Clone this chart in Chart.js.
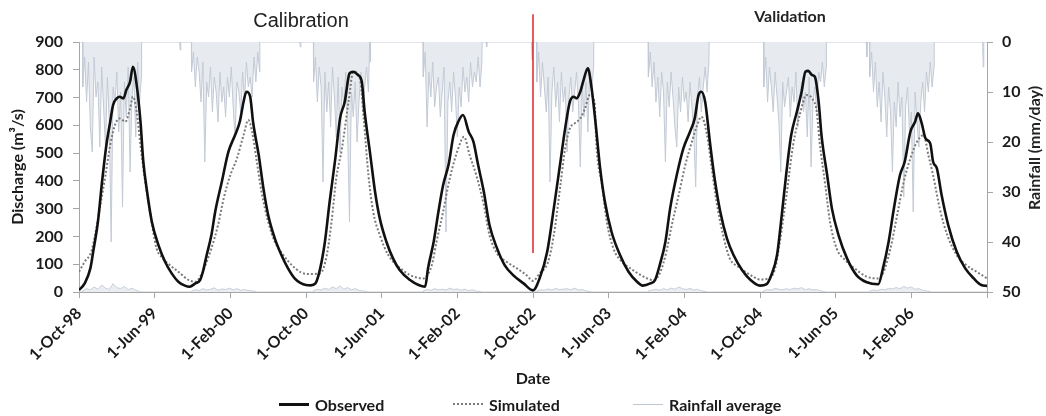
<!DOCTYPE html>
<html><head><meta charset="utf-8">
<script src="https://cdn.jsdelivr.net/npm/chart.js@4.4.0/dist/chart.umd.min.js"></script>
<style>
html,body{margin:0;padding:0;background:#fff;}
#wrap{position:relative;width:1046px;height:416px;overflow:hidden;}
canvas{display:block;}
.leg{position:absolute;top:394px;height:20px;display:flex;align-items:center;font:bold 16px Lato;color:#1a1a1a;white-space:nowrap;}
.leg i{display:inline-block;width:30px;margin-right:6px;}
</style></head>
<body><div id="wrap"><canvas id="c" width="1046" height="416"></canvas>
<div class="leg" style="left:279px"><i style="border-top:3px solid #111"></i>Observed</div>
<div class="leg" style="left:453px"><i style="border-top:2px dotted #7a7a7a"></i>Simulated</div>
<div class="leg" style="left:633px"><i style="border-top:1px solid #bfc7d2"></i>Rainfall average</div>
</div>
<script>
// x in months since 1-Oct-98
const xTickLabels = ['1-Oct-98','1-Jun-99','1-Feb-00','1-Oct-00','1-Jun-01','1-Feb-02','1-Oct-02','1-Jun-03','1-Feb-04','1-Oct-04','1-Jun-05','1-Feb-06'];
const periodTitles = ['Calibration','Validation'];
const splitMonth = 48;
const splitRange = [140, 1000];

const obsMonth = [0.0,0.6,1.2,1.5,2.0,2.4,2.9,3.3,3.6,4.0,4.3,4.7,5.0,5.4,5.7,6.1,6.5,6.8,7.2,7.7,8.4,9.1,9.8,10.5,11.2,11.7,12.3,12.8,13.1,13.5,14.0,14.4,15.1,15.8,16.5,17.0,17.4,17.7,18.1,18.4,19.0,19.5,20.0,20.7,21.4,22.1,22.8,23.4,24.0,24.5,25.0,25.5,26.0,26.5,27.1,27.6,28.1,28.6,29.0,29.5,29.9,30.2,30.8,31.3,31.8,32.5,33.2,33.9,35.0,35.9,36.6,36.9,37.5,38.0,38.5,39.1,39.6,40.1,40.6,41.2,41.7,42.2,42.8,43.4,44.2,45.0,45.9,47.0,48.0,48.7,49.5,50.2,50.9,51.4,51.9,52.3,52.6,53.0,53.3,53.8,54.2,54.6,55.1,55.6,56.3,57.2,58.1,59.0,59.6,60.4,60.9,61.4,62.0,62.5,63.2,63.9,64.6,65.1,65.5,65.8,66.2,66.7,67.2,67.8,68.5,69.2,70.1,71.0,72.0,72.7,73.2,73.8,74.3,74.8,75.3,75.9,76.4,76.8,77.1,77.5,77.8,78.2,78.5,79.1,79.6,80.3,81.2,82.2,83.3,84.5,85.0,85.6,86.1,86.8,87.3,87.9,88.4,88.7,89.1,89.5,90.0,90.3,90.7,91.2,91.9,92.8,93.7,94.6,95.4,96.0];
const obsFlow = [7,31,85,145,253,385,530,613,673,697,703,697,727,757,811,745,613,469,361,253,169,109,67,37,23,19,31,43,73,133,205,289,397,505,565,613,685,721,703,613,493,373,277,193,133,85,49,33,25,24,31,85,181,325,481,625,685,787,793,781,757,649,493,361,265,181,121,79,43,25,19,85,181,289,385,463,565,613,637,577,541,457,361,241,157,97,61,31,6,49,145,301,469,589,685,703,697,721,757,805,733,613,445,325,217,133,73,37,23,31,43,97,181,301,421,517,577,625,709,721,685,541,409,289,193,133,79,43,23,28,61,133,277,433,565,649,721,793,796,781,775,685,565,421,301,205,121,61,35,28,85,181,289,421,469,577,613,643,607,553,535,469,445,349,241,145,85,49,25,22];

const simMonth = [0.0,0.6,1.3,1.7,2.2,2.8,3.3,3.8,4.3,4.9,5.4,5.7,6.1,6.5,7.0,7.5,8.2,8.7,9.6,10.5,11.6,12.3,13.0,13.5,14.0,14.7,15.3,16.0,16.7,17.4,17.9,18.3,18.8,19.3,20.0,20.7,21.6,22.5,23.5,24.4,25.5,26.2,26.7,27.2,27.8,28.5,29.0,29.7,30.1,30.6,31.1,31.8,32.7,33.6,35.0,36.4,37.3,37.8,38.5,39.2,40.1,40.7,41.3,42.0,42.8,43.4,44.2,45.2,46.3,47.3,48.0,48.7,49.6,50.2,50.9,51.4,51.9,52.4,53.0,53.5,54.0,54.5,54.7,55.3,55.8,56.5,57.4,58.3,59.7,60.7,61.4,62.1,62.6,63.4,64.1,64.8,65.3,65.8,66.4,66.9,67.4,68.1,68.8,69.7,71.0,72.0,72.9,73.6,74.1,74.8,75.5,76.2,76.9,77.5,78.0,78.3,78.9,79.4,80.1,81.0,82.0,83.3,84.5,85.0,85.8,86.5,87.2,87.9,88.6,89.3,89.8,90.3,91.0,91.8,92.8,93.8,94.9,96.0];
const simFlow = [73,109,145,205,301,421,529,601,625,613,661,703,649,529,397,289,157,127,97,73,43,37,67,109,157,241,337,421,481,565,619,577,469,361,253,181,133,97,70,65,67,133,253,409,517,685,793,769,625,421,289,205,133,97,61,49,97,181,289,409,517,559,493,421,313,205,139,109,85,61,40,67,109,205,385,517,589,607,625,661,709,685,529,385,253,157,109,85,55,43,67,145,229,349,457,541,595,631,565,445,325,205,121,91,61,45,49,85,181,349,529,637,709,697,649,541,385,253,157,115,85,55,49,67,157,277,397,481,541,565,493,421,301,205,133,97,73,49];

// daily-rainfall samples (mm/day) through each wet season, one value every 0.2 month
const rainStart = [0.4, 11.9, 24.8, 36.4, 48.4, 60.2, 72.4, 83.6];
const rain1 = [9,3,12,4,17,22,3,11,8,21,5,13,21,7,16,40,9,12,6,18,10,33,8,15,5,26,11,7,19,4,12,7];
const rain2 = [6,2,9,3,6,12,4,24,8,11,5,14,7,10,16,6,12,9,15,7,11,5,13,19,8,10,14,6,12,4,9,7,11,3,8,2,6];
const rain3 = [8,3,12,5,9,28,6,14,8,17,5,11,19,7,22,9,13,6,18,36,10,15,8,20,12,6,14,9,5,10,4];
const rain4 = [7,2,17,6,11,4,13,9,7,15,10,5,38,12,8,14,6,11,19,9,13,5,10,7,12,4,9,6,8,3,9,4];
const rain5 = [8,2,11,4,9,14,7,28,10,5,13,8,16,6,12,9,22,11,7,14,10,6,12,25,9,15,8,18,6,10,5];
const rain6 = [7,2,9,4,12,7,15,6,10,24,8,13,6,11,17,21,9,14,7,12,10,16,8,13,18,29,11,7,14,9,5,10,4];
const rain7 = [9,3,12,5,9,14,6,11,16,26,8,13,10,7,15,9,12,6,17,11,8,14,10,19,7,25,12,9,14,6,8,4,9,5];
const rain8 = [7,2,10,4,13,8,16,6,11,19,9,14,26,12,17,8,15,11,31,13,9,18,14,34,10,16,21,12,8,14,6,10,4,9,5];
const rainSeasons = [rain1, rain2, rain3, rain4, rain5, rain6, rain7, rain8];
const dryMonth = [10.7, 23.4, 30.8, 43.1, 47.9, 83.3, 95.6];
const dryRain  = [1.6, 1, 3.6, 1, 3.6, 3, 5];

// faint low-level trace near the discharge baseline (m3/s), one value every 0.4 month
const base1 = [4,12,8,18,10,25,14,9,30,16,12,20,8,14,6,2];
const base2 = [3,8,5,12,7,10,15,6,11,9,14,8,12,6,9,5,4,2];
const base3 = [5,10,7,14,9,18,12,22,10,16,8,12,6,4,2];
const base4 = [4,9,6,12,8,10,7,14,9,11,6,10,5,8,3,2];
const base5 = [3,8,6,11,7,13,9,10,12,8,14,7,9,4,2];
const base6 = [4,7,10,6,12,8,14,10,18,12,9,13,7,10,4,2];
const base7 = [5,9,7,13,10,8,12,9,14,11,16,8,12,7,9,4,2];
const base8 = [3,7,5,10,8,13,11,16,12,20,14,18,10,12,6,4,2];
const baseSeasons = [base1, base2, base3, base4, base5, base6, base7, base8];

function seasonPoints(starts, seasons, step, extraX, extraY){
  const pts = [{x:0,y:0},{x:96,y:0}];
  seasons.forEach((vals,k)=>{
    const s = starts[k];
    pts.push({x:s-0.02, y:0});
    vals.forEach((v,i)=>pts.push({x:s+i*step, y:v}));
    pts.push({x:s+(vals.length-1)*step+0.02, y:0});
  });
  (extraX||[]).forEach((m,i)=>{ pts.push({x:m-0.06,y:0},{x:m,y:extraY[i]},{x:m+0.06,y:0}); });
  return pts.sort((a,b)=>a.x-b.x);
}
const pair = (xs, ys) => xs.map((x,i)=>({x, y:ys[i]}));

const FONT = 'Lato';
const titlesPlugin = {
  id:'titles',
  afterDraw(chart){
    const ctx = chart.ctx;
    ctx.save();
    ctx.fillStyle = '#222';
    ctx.textAlign = 'center'; ctx.textBaseline = 'middle';
    ctx.font = '20px "Liberation Sans", Arial, sans-serif';
    ctx.fillText(periodTitles[0], 301, 21);
    ctx.font = 'bold 16px ' + FONT;
    ctx.fillText(periodTitles[1], 790, 17);
    ctx.translate(1035, 148);
    ctx.rotate(-Math.PI/2);
    ctx.fillText('Rainfall (mm/day)', 0, 0);
    ctx.restore();
  }
};

const axisColor = '#a6a6a6';
const tickFont = {family: FONT, size: 16, weight: 'bold'};

new Chart(document.getElementById('c'), {
  type: 'line',
  data: {
    datasets: [
      {label:'Observed', data: pair(obsMonth, obsFlow), yAxisID:'y', borderColor:'#111', borderWidth:2.6,
       pointRadius:0, cubicInterpolationMode:'monotone', order:1},
      {label:'Simulated', data: pair(simMonth, simFlow), yAxisID:'y', borderColor:'#7a7a7a', borderWidth:2,
       borderDash:[2,2], pointRadius:0, cubicInterpolationMode:'monotone', order:2},
      {label:'Rainfall average', data: seasonPoints(rainStart, rainSeasons, 0.2, dryMonth, dryRain), yAxisID:'y2',
       borderColor:'#c3cad5', borderWidth:1, pointRadius:0, tension:0, order:4,
       fill:{value:0}, backgroundColor:'rgba(196,203,214,0.4)'},
      {label:'base', data: seasonPoints(rainStart, baseSeasons, 0.4), yAxisID:'y',
       borderColor:'#c9cfd9', borderWidth:1, pointRadius:0, tension:0, order:5,
       fill:'origin', backgroundColor:'rgba(196,203,214,0.35)'},
      {label:'split', data: [{x:splitMonth,y:splitRange[0]},{x:splitMonth,y:splitRange[1]}], yAxisID:'y',
       borderColor:'#d9262b', borderWidth:1.5, pointRadius:0, clip:false, order:0}
    ]
  },
  options: {
    responsive:false, animation:false, devicePixelRatio:1,
    layout:{padding:{top:42, bottom:26, left:0, right:0}},
    plugins:{legend:{display:false}, tooltip:{enabled:false}},
    scales:{
      x:{type:'linear', min:0, max:96,
         afterFit(s){ s.height = 98; },
         ticks:{stepSize:8, autoSkip:false, includeBounds:false, maxRotation:45, minRotation:45, padding:6,
                color:'#1a1a1a', font:tickFont,
                callback:(v)=> (v % 8 === 0 && xTickLabels[v/8]) ? xTickLabels[v/8] : ''},
         grid:{display:true, drawOnChartArea:false, drawTicks:true, tickLength:6, color:axisColor},
         border:{display:true, color:axisColor, width:1},
         title:{display:true, text:'Date', color:'#1a1a1a', font:{family:FONT,size:16,weight:'bold'}, padding:{top:0,bottom:2}}},
      y:{position:'left', min:0, max:900,
         afterFit(s){ s.width = 79; },
         ticks:{stepSize:100, color:'#1a1a1a', font:tickFont, padding:10},
         grid:{display:true, drawOnChartArea:false, drawTicks:true, tickLength:6, color:axisColor},
         border:{display:true, color:axisColor, width:1},
         title:{display:true, text:'Discharge (m³/s)', color:'#1a1a1a', font:{family:FONT,size:16,weight:'bold'}, padding:{top:8,bottom:0}}},
      y2:{position:'right', min:0, max:50, reverse:true,
         afterFit(s){ s.width = 59; },
         ticks:{stepSize:10, color:'#1a1a1a', font:tickFont, padding:9},
         grid:{display:true, drawOnChartArea:false, drawTicks:true, tickLength:6, color:axisColor},
         border:{display:true, color:axisColor, width:1},
         title:{display:false}}
    }
  },
  plugins:[titlesPlugin]
});
</script>
</body></html>
